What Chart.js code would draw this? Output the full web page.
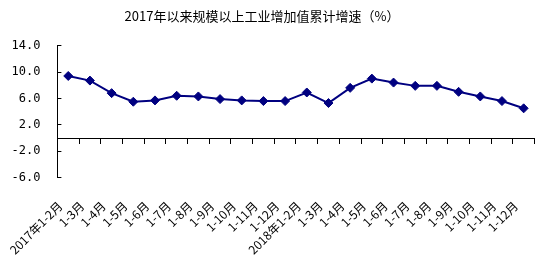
<!DOCTYPE html>
<html>
<head>
<meta charset="utf-8">
<script src="https://cdn.jsdelivr.net/npm/chart.js@4.4.1/dist/chart.umd.min.js"></script>
<style>
  html, body { margin: 0; padding: 0; background: #fff; }
  canvas { display: block; }
</style>
</head>
<body>
<canvas id="chart" width="540" height="260"></canvas>
<script>
// Data
const categories = [
  '2017年1-2月', '1-3月', '1-4月', '1-5月', '1-6月', '1-7月', '1-8月', '1-9月', '1-10月', '1-11月', '1-12月',
  '2018年1-2月', '1-3月', '1-4月', '1-5月', '1-6月', '1-7月', '1-8月', '1-9月', '1-10月', '1-11月', '1-12月'
];
const growth = [
  9.4, 8.7, 6.8, 5.5, 5.7, 6.4, 6.3, 5.9, 5.7, 5.6, 5.6,
  6.9, 5.3, 7.6, 9.0, 8.4, 7.9, 7.9, 7.0, 6.3, 5.6, 4.5
];
const yTicks = [-6, -2, 2, 6, 10, 14];

const titleText = '2017年以来规模以上工业增加值累计增速（%）';
const navy = '#000080';
const cjk = 'SimSun, "Noto Sans CJK SC", sans-serif';

const ctx = document.getElementById('chart').getContext('2d');
const chart = new Chart(ctx, {
  type: 'line',
  data: {
    labels: categories,
    datasets: [{
      data: growth,
      xAxisID: 'x',
      yAxisID: 'y',
      borderColor: navy,
      backgroundColor: navy,
      borderWidth: 2,
      pointStyle: 'rectRot',
      pointRadius: 4.5,
      pointBorderWidth: 1,
      pointBackgroundColor: navy,
      pointBorderColor: navy,
      tension: 0
    }]
  },
  options: {
    responsive: false,
    animation: false,
    layout: { padding: { left: -9.5, right: 0, bottom: 1 } },
    plugins: {
      legend: { display: false },
      tooltip: { enabled: false },
      title: {
        display: true,
        // a full-width space pulls the centred text a little to the left, like the original
        text: titleText + '\u3000',
        color: '#000',
        font: { family: cjk, size: 13, weight: 'normal' },
        padding: { top: 8, bottom: 22 }
      }
    },
    scales: {
      // labels along the bottom
      x: {
        type: 'category',
        position: 'bottom',
        offset: true,
        border: { display: false },
        grid: { display: false, drawTicks: true, tickLength: 19 },
        ticks: {
          autoSkip: false,
          minRotation: 45,
          maxRotation: 45,
          padding: 2,
          labelOffset: -8,
          color: '#000',
          font: { family: cjk, size: 12 }
        }
      },
      // axis line and tick marks at zero
      x0: {
        type: 'category',
        position: { y: 0 },
        offset: true,
        border: { display: true, color: '#000', width: 1 },
        grid: { display: true, offset: true, drawOnChartArea: false, drawTicks: true, tickLength: 5, color: '#000' },
        ticks: { display: false }
      },
      y: {
        position: 'left',
        min: -6,
        max: 14,
        afterBuildTicks: axis => { axis.ticks = yTicks.map(v => ({ value: v })); },
        border: { display: true, color: '#000', width: 1 },
        grid: { drawOnChartArea: false, drawTicks: true, tickLength: -4, color: '#000' },
        ticks: {
          padding: 21,
          color: '#000',
          font: { family: '"DejaVu Sans Mono", monospace', size: 12 },
          callback: v => Number(v).toFixed(1)
        }
      }
    }
  }
});
</script>
</body>
</html>
